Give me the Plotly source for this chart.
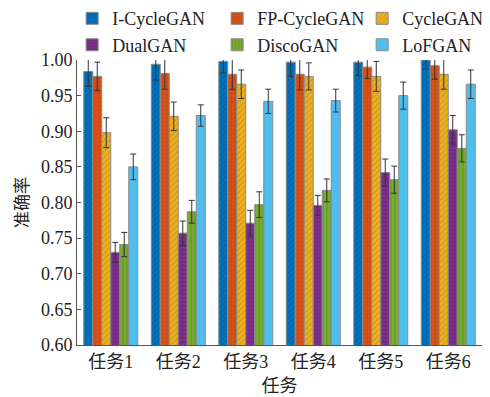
import plotly.graph_objects as go

tasks = ["任务1", "任务2", "任务3", "任务4", "任务5", "任务6"]
methods = ["I-CycleGAN", "FP-CycleGAN", "CycleGAN", "DualGAN", "DiscoGAN", "LoFGAN"]

i_cyclegan = [0.984, 0.994, 0.998, 0.997, 0.997, 1.000]
i_cyclegan_err = [0.021, 0.022, 0.016, 0.020, 0.019, 0.013]
fp_cyclegan = [0.977, 0.981, 0.980, 0.980, 0.990, 0.992]
fp_cyclegan_err = [0.020, 0.022, 0.021, 0.022, 0.016, 0.019]
cyclegan = [0.898, 0.921, 0.966, 0.977, 0.977, 0.980]
cyclegan_err = [0.021, 0.020, 0.020, 0.019, 0.021, 0.021]
dualgan = [0.730, 0.757, 0.771, 0.796, 0.842, 0.902]
dualgan_err = [0.014, 0.017, 0.018, 0.014, 0.019, 0.020]
discogan = [0.741, 0.787, 0.797, 0.817, 0.832, 0.876]
discogan_err = [0.017, 0.016, 0.018, 0.016, 0.019, 0.019]
lofgan = [0.850, 0.922, 0.942, 0.943, 0.950, 0.966]
lofgan_err = [0.018, 0.015, 0.017, 0.016, 0.019, 0.020]

series = [i_cyclegan, fp_cyclegan, cyclegan, dualgan, discogan, lofgan]
errors = [i_cyclegan_err, fp_cyclegan_err, cyclegan_err, dualgan_err, discogan_err, lofgan_err]
colors = ["#0072BD", "#D95319", "#EDB120", "#7E2F8E", "#77AC30", "#4DBEEE"]
patterns = ["/", "+", "/", "-", "|", ""]

fig = go.Figure()
for name, vals, err, col, pat in zip(methods, series, errors, colors, patterns):
    fig.add_trace(go.Bar(
        name=name, x=tasks, y=vals,
        marker=dict(color=col, line=dict(color="#8a8a8a", width=1),
                    pattern=dict(shape=pat, fgcolor="#000000", fgopacity=0.12, size=4, solidity=0.3)),
        error_y=dict(type="data", array=err, visible=True, color="#333333", thickness=1, width=3),
    ))

font_main = "Liberation Serif, Noto Sans CJK SC, serif"
fig.update_layout(
    width=482, height=389,
    margin=dict(l=69, r=8, t=52, b=52, autoexpand=False),
    paper_bgcolor="white", plot_bgcolor="white",
    barmode="group", bargap=0.2, bargroupgap=0.0,
    font=dict(family=font_main, size=17, color="#222222"),
    legend=dict(orientation="h", x=-0.012, y=1.21, xanchor="left", yanchor="top",
                entrywidth=100, font=dict(size=18, family=font_main),
                itemwidth=30, tracegroupgap=0, bgcolor="rgba(0,0,0,0)"),
    xaxis=dict(showline=True, linecolor="#555555", linewidth=1, ticks="", automargin=False,
               tickfont=dict(size=18, family=font_main),
               title=dict(text="任务", font=dict(size=18, family="Noto Sans CJK SC"), standoff=0)),
    yaxis=dict(range=[0.6, 1.0], dtick=0.05, tickformat=".2f", showline=True, automargin=False,
               linecolor="#555555", linewidth=1, ticks="inside", ticklen=4, tickcolor="#555555",
               showgrid=False, zeroline=False,
               tickfont=dict(size=18, family=font_main),
               title=dict(text="准确率", font=dict(size=17, family="Noto Sans CJK SC"), standoff=8)),
)

fig.write_html("out.html")
